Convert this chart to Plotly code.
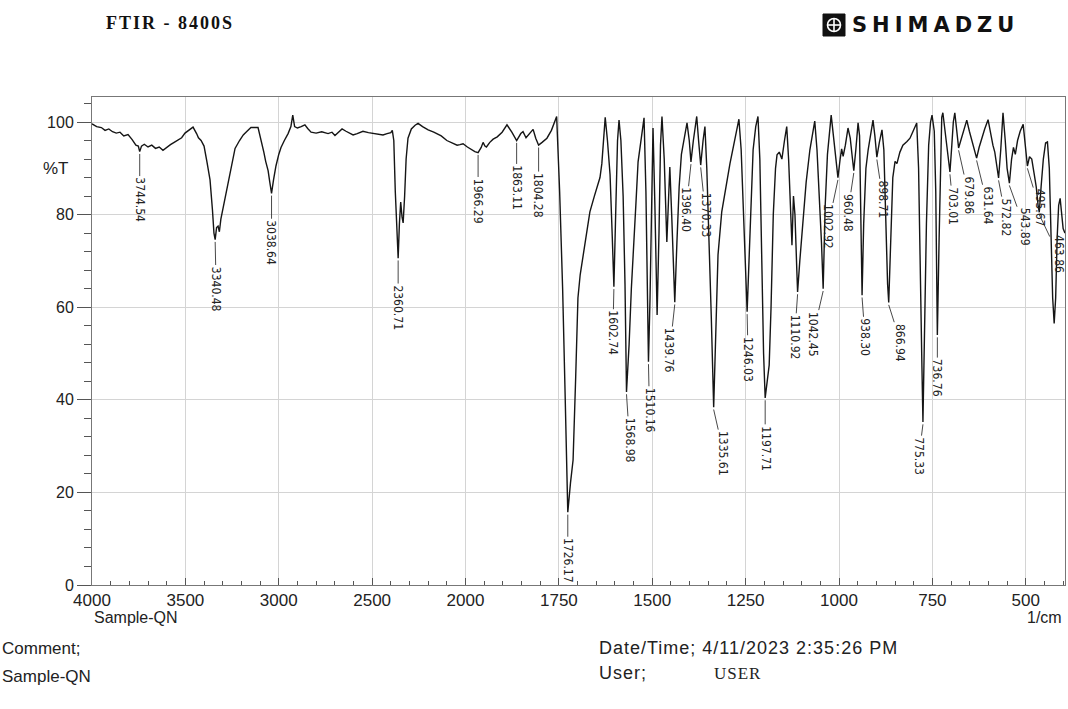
import plotly.graph_objects as go

# ---------------- data ----------------
wavenumber = [4000, 3975, 3950, 3930, 3910, 3890, 3870, 3850, 3830, 3807, 3785, 3765, 3752, 3744.54, 3735,
              3720, 3700, 3680, 3660, 3640, 3620, 3600, 3580, 3560, 3540, 3520, 3502, 3480, 3459, 3440,
              3430, 3416, 3400, 3385, 3368, 3355, 3347, 3340.48, 3333, 3325, 3318, 3310, 3295, 3280, 3260,
              3234, 3210, 3190, 3170, 3149, 3111, 3100, 3090, 3080, 3070, 3057, 3048, 3038.64, 3028, 3015,
              3000, 2988, 2970, 2950, 2935, 2925, 2915, 2900, 2880, 2860, 2845, 2827, 2800, 2770, 2736,
              2715, 2699, 2680, 2661, 2640, 2620, 2602, 2580, 2549, 2520, 2500, 2470, 2442, 2420, 2400,
              2392, 2384, 2376, 2368, 2360.71, 2354, 2347, 2340, 2334, 2326, 2318, 2308, 2290, 2270, 2254,
              2230, 2200, 2170, 2152, 2130, 2100, 2070, 2045, 2030, 2013, 1995, 1985, 1975, 1966.29, 1958,
              1953, 1948, 1944, 1935, 1926, 1915, 1902, 1889, 1876, 1863.11, 1852, 1846, 1838, 1828, 1819,
              1812, 1804.28, 1795, 1782, 1770, 1761, 1756, 1748, 1740, 1733, 1726.17, 1719, 1712, 1705, 1699,
              1693, 1688, 1678, 1667, 1655, 1645, 1640, 1635, 1630, 1626, 1620, 1613, 1607, 1602.74, 1598,
              1593, 1589, 1584, 1578, 1573, 1568.98, 1562, 1556, 1550, 1544, 1538, 1530, 1522, 1517, 1513,
              1510.16, 1506, 1502, 1498, 1493, 1487, 1482, 1478, 1474, 1468, 1461, 1456, 1453, 1448, 1443,
              1439.76, 1434, 1428, 1422, 1414, 1407, 1401, 1396.40, 1390, 1384, 1381, 1376, 1370.33, 1364, 1359,
              1354, 1348, 1342, 1335.61, 1330, 1324, 1314, 1303, 1292, 1282, 1274, 1268, 1262, 1256, 1251,
              1246.03, 1241, 1236, 1230, 1223, 1217, 1212, 1207, 1202, 1197.71, 1192, 1187, 1182, 1176, 1170,
              1166, 1160, 1153, 1146, 1140, 1135, 1130, 1126, 1122, 1118, 1113, 1110.92, 1105, 1097, 1088,
              1078, 1070, 1065, 1059, 1053, 1047, 1042.45, 1037, 1031, 1026, 1021, 1015, 1008, 1002.92, 997,
              993, 989, 983, 976, 970, 964, 960.48, 955, 949, 945, 941, 938.30, 934, 928, 922,
              915, 909, 904, 898.71, 892, 885, 880, 875, 870, 866.94, 862, 856, 850, 845, 837,
              829, 818, 810, 805, 798, 792, 787, 782, 778, 775.33, 771, 766, 760, 755, 751,
              745, 741, 738, 736.76, 732, 728, 725, 722, 716, 710, 706, 703.01, 698, 694, 690,
              685, 679.86, 674, 666, 658, 651, 645, 638, 631.64, 625, 618, 610, 601, 594, 588,
              583, 577, 572.82, 567, 561, 555, 550, 543.89, 538, 533, 528, 522, 515, 507, 501,
              495.67, 490, 484, 478, 472, 467, 463.86, 459, 453, 447, 442, 437, 432, 428, 424,
              420, 416, 412, 408, 404, 400, 395]

transmittance = [99.6, 99.0, 98.8, 98.2, 98.5, 97.9, 97.6, 97.8, 97.0, 97.3, 96.2, 95.0, 94.8, 93.6, 94.8,
                 95.2, 94.6, 95.0, 94.3, 94.6, 93.9, 94.6, 95.1, 95.6, 96.2, 96.6, 97.6, 98.2, 98.9, 97.5,
                 96.6, 96.0, 94.8, 91.5, 87.5, 81.0, 76.0, 74.6, 77.2, 77.5, 76.3, 79.0, 82.0, 85.0, 89.5,
                 94.3, 96.0, 97.2, 98.0, 98.8, 98.8, 97.0, 95.5, 93.5, 91.5, 89.5, 87.0, 84.6, 87.5, 90.5,
                 93.0, 94.5, 96.0, 97.5, 99.0, 101.5, 99.0, 98.7, 99.0, 99.4, 98.6, 97.8, 97.6, 97.9, 97.5,
                 97.8, 97.1, 97.9, 98.5, 98.0, 97.6, 97.2, 97.5, 98.0, 97.7, 97.6, 97.5, 97.2, 97.5, 97.7,
                 98.2, 96.0, 85.0, 76.0, 70.6, 78.0, 82.7, 79.5, 78.2, 84.0, 92.0, 96.5, 98.5, 99.3, 99.7,
                 99.0, 98.3, 97.8, 97.5, 97.0, 96.0, 95.4, 95.0, 95.1, 95.3, 94.6, 94.0, 93.6, 93.4, 94.5,
                 95.6, 94.8, 94.6, 95.6, 96.3, 96.8, 97.8, 99.4, 97.8, 96.0, 97.5, 97.9, 96.6, 97.5, 98.4,
                 96.5, 95.0, 95.6, 96.5, 98.2, 100.2, 101.2, 85.0, 64.0, 40.0, 15.7, 22.0, 27.0, 45.0, 62.0,
                 67.0, 69.8, 75.0, 80.6, 84.0, 86.8, 88.0, 91.0, 96.0, 101.0, 96.0, 88.6, 75.0, 64.4, 80.0,
                 96.0, 100.4, 96.0, 84.0, 65.0, 41.7, 52.0, 64.0, 72.0, 82.0, 91.4, 96.0, 100.9, 85.0, 62.0,
                 48.2, 62.0, 85.0, 98.7, 82.0, 58.3, 76.0, 95.0, 101.2, 92.0, 74.1, 85.0, 90.3, 80.0, 66.0,
                 61.1, 74.0, 86.0, 93.0, 97.0, 99.8, 96.0, 91.4, 96.0, 100.0, 101.2, 96.0, 90.7, 96.0, 99.0,
                 90.0, 76.0, 58.0, 38.4, 52.0, 71.3, 80.6, 86.0, 91.0, 95.0, 98.0, 100.6, 94.0, 80.0, 66.0,
                 59.0, 70.0, 83.0, 94.0, 99.0, 101.2, 92.0, 70.0, 50.0, 40.4, 45.0, 47.5, 60.0, 80.0, 90.0,
                 92.9, 93.5, 92.0, 96.0, 99.0, 92.0, 80.0, 73.4, 84.0, 80.0, 68.0, 63.3, 70.0, 79.0, 87.0,
                 94.0, 98.0, 100.2, 94.0, 85.0, 74.0, 64.0, 82.0, 93.0, 98.0, 101.5, 97.0, 91.0, 88.0, 92.0,
                 94.2, 92.6, 95.0, 98.7, 96.5, 92.0, 89.5, 94.0, 99.8, 97.0, 80.0, 62.6, 78.0, 90.0, 94.0,
                 97.5, 100.4, 97.0, 92.4, 95.6, 98.3, 94.0, 78.0, 65.0, 61.0, 72.0, 88.0, 91.5, 91.0, 93.5,
                 95.0, 95.8, 96.5, 97.4, 98.7, 99.8, 90.0, 70.0, 47.0, 35.2, 55.0, 78.0, 95.0, 100.0, 101.5,
                 98.0, 85.0, 65.0, 54.0, 75.0, 95.0, 101.0, 102.0, 98.0, 93.0, 90.0, 89.2, 95.0, 100.0, 102.0,
                 98.0, 94.4, 96.0, 98.5, 100.4, 98.0, 96.0, 94.0, 92.2, 94.5, 96.5, 98.5, 100.5, 97.0, 95.0,
                 93.5, 90.0, 87.9, 94.0, 102.0, 96.0, 90.0, 86.8, 92.0, 94.5, 93.0, 96.0, 98.0, 99.5, 95.0,
                 90.5, 92.5, 92.0, 89.0, 86.0, 82.0, 80.5, 86.0, 92.0, 95.5, 95.7, 90.0, 76.0, 62.0, 56.5,
                 62.0, 75.0, 82.0, 83.5, 80.0, 77.0, 76.0]

peak_wn = [3744.54, 3340.48, 3038.64, 2360.71, 1966.29, 1863.11, 1804.28, 1726.17, 1602.74, 1568.98,
           1510.16, 1439.76, 1396.40, 1370.33, 1335.61, 1246.03, 1197.71, 1110.92, 1042.45, 1002.92,
           960.48, 938.30, 898.71, 866.94, 775.33, 736.76, 703.01, 679.86, 631.64, 572.82,
           543.89, 495.67, 463.86]
peak_tr = [93.6, 74.6, 84.6, 70.6, 93.4, 96.0, 95.0, 15.7, 64.4, 41.7,
           48.2, 61.1, 91.4, 90.7, 38.4, 59.0, 40.4, 63.3, 64.0, 88.0,
           89.5, 62.6, 92.4, 61.0, 35.2, 54.0, 89.2, 94.4, 92.2, 87.9,
           86.8, 90.5, 80.5]
peak_labels = ["3744.54", "3340.48", "3038.64", "2360.71", "1966.29", "1863.11", "1804.28", "1726.17",
               "1602.74", "1568.98", "1510.16", "1439.76", "1396.40", "1370.33", "1335.61", "1246.03",
               "1197.71", "1110.92", "1042.45", "1002.92", "960.48", "938.30", "898.71", "866.94",
               "775.33", "736.76", "703.01", "679.86", "631.64", "572.82", "543.89", "495.67", "463.86"]

x_ticks = [4000, 3500, 3000, 2500, 2000, 1750, 1500, 1250, 1000, 750, 500]
y_ticks = [0, 20, 40, 60, 80, 100]

# ---------------- style ----------------
# label leader offsets in pixels (dx, leader length)
label_offsets = [(0, 23), (1, 24), (0, 24), (0, 24), (0, 23), (0, 22), (0, 25), (0, 23), (-1, 21), (3, 23),
                 (1, 23), (-5, 23), (-5, 23), (5, 25), (10, 21), (1, 22), (0, 25), (-3, 20), (-10, 20),
                 (-10, 24), (-6, 20), (3, 20), (6, 20), (12, 18), (-4, 12), (0, 21), (3, 12), (10, 25),
                 (11, 25), (7, 17), (15, 22), (12, 20), (19, 20)]


def axis_pos(w):
    # Shimadzu split scale: above 2000 1/cm the scale is compressed by a factor 2
    return w if w <= 2000 else 2000 + (w - 2000) / 2.0


W, H = 1068, 709
ML, MR, MT, MB = 92, 3, 97, 124
PW, PH = W - ML - MR, H - MT - MB


def xp(px):
    return (px - ML) / PW


def yp(py):
    return (H - MB - py) / PH


fig = go.Figure()
fig.add_trace(go.Scatter(
    x=[axis_pos(w) for w in wavenumber], y=transmittance,
    mode="lines", line=dict(color="#151515", width=1.4),
    hoverinfo="skip", showlegend=False))

label_font = dict(family="Liberation Sans Narrow, DejaVu Sans Condensed, Arial Narrow, sans-serif",
                  size=12, color="#222")
for w, t, lab, (dx, dy) in zip(peak_wn, peak_tr, peak_labels, label_offsets):
    half = 3.3 * len(lab)  # half of the rotated label length (box is centred on the arrow tail)
    fig.add_annotation(x=axis_pos(w), y=t - 0.5, xref="x", yref="y", text=lab,
                       textangle=90, font=label_font, showarrow=True, arrowhead=0,
                       arrowwidth=0.9, arrowcolor="#333", ax=dx, ay=dy + half,
                       standoff=0, startstandoff=0)

text_font = dict(family="Liberation Sans, Arial, sans-serif", size=17, color="#222")
# header
fig.add_annotation(x=xp(104), y=yp(23), xref="paper", yref="paper", showarrow=False,
                   xanchor="left", yanchor="middle",
                   text="<b><span style='letter-spacing:2px'>FTIR - 8400S</span></b>",
                   font=dict(family="Liberation Serif, Times New Roman, serif", size=18, color="#111"))
fig.add_annotation(x=xp(850), y=yp(25), xref="paper", yref="paper", showarrow=False,
                   xanchor="left", yanchor="middle",
                   text="<b><span style='letter-spacing:5px'>SHIMADZU</span></b>",
                   font=dict(family="DejaVu Sans, Arial Black, sans-serif", size=21, color="#111"))
fig.add_shape(type="rect", xref="paper", yref="paper", x0=xp(823), x1=xp(845), y0=yp(36), y1=yp(14),
              fillcolor="#111", line=dict(color="#111", width=1))
fig.add_shape(type="circle", xref="paper", yref="paper", x0=xp(827.5), x1=xp(840.5), y0=yp(31.5), y1=yp(18.5),
              line=dict(color="white", width=1.6))
fig.add_shape(type="line", xref="paper", yref="paper", x0=xp(827.5), x1=xp(840.5), y0=yp(25), y1=yp(25),
              line=dict(color="white", width=1.6))
fig.add_shape(type="line", xref="paper", yref="paper", x0=xp(834), x1=xp(834), y0=yp(18.5), y1=yp(31.5),
              line=dict(color="white", width=1.6))

# axis titles / footers
fig.add_annotation(x=xp(41), y=yp(168), xref="paper", yref="paper", showarrow=False,
                   xanchor="left", yanchor="middle", text="%T", font=text_font)
fig.add_annotation(x=xp(92), y=yp(617), xref="paper", yref="paper", showarrow=False,
                   xanchor="left", yanchor="middle", text="Sample-QN", font=dict(text_font, size=16))
fig.add_annotation(x=xp(1064), y=yp(617), xref="paper", yref="paper", showarrow=False,
                   xanchor="right", yanchor="middle", text="1/cm", font=dict(text_font, size=16))
fig.add_annotation(x=xp(0), y=yp(648), xref="paper", yref="paper", showarrow=False,
                   xanchor="left", yanchor="middle", text="Comment;", font=text_font)
fig.add_annotation(x=xp(0), y=yp(676), xref="paper", yref="paper", showarrow=False,
                   xanchor="left", yanchor="middle", text="Sample-QN", font=text_font)
fig.add_annotation(x=xp(597), y=yp(648), xref="paper", yref="paper", showarrow=False,
                   xanchor="left", yanchor="middle",
                   text="<span style='letter-spacing:1px'>Date/Time; 4/11/2023 2:35:26 PM</span>",
                   font=dict(family="Liberation Sans, Arial, sans-serif", size=18, color="#222"))
fig.add_annotation(x=xp(597), y=yp(673), xref="paper", yref="paper", showarrow=False,
                   xanchor="left", yanchor="middle", text="<span style='letter-spacing:1px'>User;</span>",
                   font=dict(family="Liberation Sans, Arial, sans-serif", size=18, color="#222"))
fig.add_annotation(x=xp(712), y=yp(673), xref="paper", yref="paper", showarrow=False,
                   xanchor="left", yanchor="middle", text="<span style='letter-spacing:1px'>USER</span>",
                   font=dict(family="Liberation Serif, Times New Roman, serif", size=17, color="#222"))

fig.update_layout(
    width=W, height=H, margin=dict(l=ML, r=MR, t=MT, b=MB, autoexpand=False),
    paper_bgcolor="white", plot_bgcolor="white", showlegend=False,
    xaxis=dict(range=[axis_pos(4000), axis_pos(395)], tickmode="array",
               tickvals=[axis_pos(v) for v in x_ticks], ticktext=[str(v) for v in x_ticks],
               ticks="inside", ticklen=7, tickcolor="#555", showgrid=True, gridcolor="#d4d4d4",
               gridwidth=1, zeroline=False, showline=True, linecolor="#777", mirror=True,
               tickfont=dict(family="Liberation Sans, Arial, sans-serif", size=17, color="#222"),
               minor=dict(dtick=50, tick0=0, ticks="inside", ticklen=4, tickcolor="#555", showgrid=False)),
    yaxis=dict(range=[0, 105.4], tickmode="array", tickvals=y_ticks, ticktext=[str(v) for v in y_ticks],
               ticks="outside", ticklen=14, tickcolor="#555", showgrid=True, gridcolor="#d4d4d4",
               gridwidth=1, zeroline=False, showline=True, linecolor="#777", mirror=True,
               tickfont=dict(family="Liberation Sans, Arial, sans-serif", size=16, color="#222"),
               minor=dict(dtick=4, tick0=0, ticks="outside", ticklen=7, tickcolor="#555", showgrid=False)),
)

fig.write_html("out.html")
